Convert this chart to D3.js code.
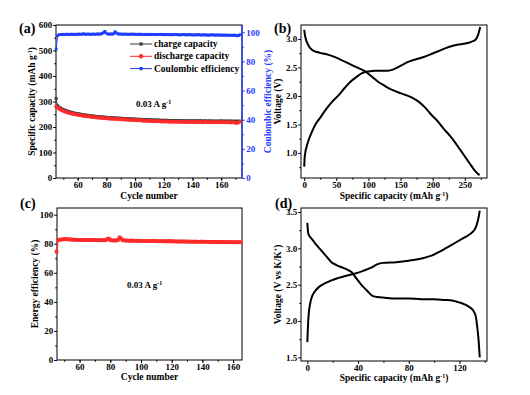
<!DOCTYPE html>
<html>
<head>
<meta charset="utf-8">
<script src="https://cdn.jsdelivr.net/npm/d3@7"></script>
<style>
  body { margin: 0; background: #fff; }
  svg text { font-family: "Liberation Serif", "Times New Roman", serif; font-weight: bold; }
</style>
</head>
<body>
<div id="chart"></div>
<script>
// (a) cycling, cycles 45..173
const firstCycleA = 45;
const chargeCap = [312,
  283,278,274,271,268,266,264,262,260,258,
  257,255,254,253,252,251,250,249,248,247,
  246,246,245,244,243,243,242,241,241,240,
  240,239,239,238,238,237,237,236,236,236,
  235,235,235,234,234,234,233,233,233,232,
  232,232,231,231,231,230,230,230,230,229,
  229,229,229,228,228,228,228,227,227,227,
  227,227,226,226,226,226,226,226,225,225,
  225,225,225,225,225,225,225,224,224,224,
  224,224,224,224,224,224,224,224,224,224,
  224,223,224,224,223,223,224,223,223,223,
  223,223,223,223,224,223,223,223,223,223,
  223,223,223,222,223,223,222,223];
const dischargeCap = [280,
  276,272,269,266,263,261,259,257,255,254,
  252,251,250,249,248,247,246,245,244,243,
  242,242,241,240,239,239,238,237,237,236,
  236,235,235,234,234,233,233,232,232,232,
  231,231,231,230,230,230,229,229,229,228,
  228,228,227,227,227,226,226,226,226,225,
  225,225,225,224,224,224,224,223,223,223,
  223,223,222,222,222,222,222,222,221,221,
  221,221,221,221,221,221,221,220,220,220,
  220,220,220,220,220,220,220,220,220,220,
  220,219,220,220,219,219,220,219,219,219,
  219,219,219,219,220,219,219,219,219,219,
  219,218,219,218,217,216,218,221];
const coulombEff = [88.5,
  97.8,98.3,98.5,98.4,98.6,98.5,98.6,98.7,98.5,98.6,
  98.7,98.6,98.5,98.7,98.6,98.8,98.6,98.7,99.0,98.7,
  98.6,98.8,98.7,98.6,98.7,98.8,98.6,98.7,98.9,98.7,
  98.8,99.2,99.8,100.6,99.4,98.8,98.7,98.9,98.7,99.0,
  100.4,99.6,98.9,98.8,98.7,98.8,98.6,98.8,98.7,98.6,
  98.7,98.6,98.8,98.6,98.7,98.5,98.6,98.7,98.5,98.6,
  98.5,98.6,98.4,98.6,98.5,98.4,98.6,98.5,98.4,98.5,
  98.4,98.5,98.6,98.4,98.5,98.3,98.4,98.5,98.3,98.4,
  98.3,98.4,98.5,98.3,98.4,98.2,98.3,98.4,98.5,98.3,
  98.2,98.3,98.4,98.2,98.3,98.1,98.3,98.2,98.4,98.2,
  98.1,98.2,98.3,98.1,98.2,98.0,98.2,98.1,98.3,98.1,
  98.0,98.1,98.2,98.0,98.1,98.0,98.1,97.9,98.1,98.0,
  97.9,98.0,97.8,98.1,97.9,97.6,97.7,98.3];

// (b) charge / discharge profile
const bDisCap = [0,1,2,4,8,12,20,27,38,48,58,69,82,95,105,115,125,136,147,157,168,178,188,198,209,219,227,234,242,250,258,265,270,273];
const bDisV = [3.16,3.08,3.02,2.95,2.86,2.81,2.77,2.75,2.72,2.68,2.63,2.57,2.50,2.43,2.34,2.25,2.18,2.11,2.06,2.02,1.97,1.90,1.80,1.67,1.54,1.40,1.30,1.20,1.07,0.94,0.81,0.70,0.64,0.61];
const bChaCap = [0,0.5,1.5,4,7,12,17,25,33,43,54,63,72,81,90,95,100,110,120,130,140,147,155,165,173,185,199,212,225,238,251,260,267,271,274];
const bChaV = [0.76,0.88,0.99,1.12,1.23,1.37,1.49,1.62,1.75,1.89,2.02,2.14,2.25,2.33,2.40,2.42,2.43,2.44,2.44,2.44,2.47,2.51,2.56,2.61,2.64,2.68,2.74,2.80,2.86,2.90,2.92,2.95,2.99,3.08,3.21];

// (c) energy efficiency, cycles 45..165
const firstCycleC = 45;
const energyEff = [74.5,
  82.6,82.8,82.9,83.0,83.1,83.2,83.1,83.0,82.9,82.9,
  82.8,82.8,82.7,82.7,82.6,82.7,82.6,82.6,82.5,82.6,
  82.5,82.5,82.6,82.5,82.4,82.5,82.4,82.4,82.5,82.4,
  82.4,82.5,83.2,83.6,82.6,82.3,82.3,82.2,82.3,82.6,
  84.4,83.6,82.5,82.3,82.2,82.2,82.1,82.1,82.2,82.1,
  82.0,82.0,82.1,82.0,81.9,81.9,82.0,81.9,81.9,81.8,
  81.9,81.8,82.1,81.8,81.8,81.7,81.8,81.7,81.7,81.8,
  81.7,81.6,82.0,81.6,81.7,81.6,81.6,81.6,81.5,81.6,
  81.5,81.5,81.6,81.5,81.5,81.4,81.5,81.4,81.4,81.5,
  81.4,81.4,81.3,81.4,81.5,81.3,81.3,81.4,81.3,81.3,
  81.3,81.2,81.3,81.2,81.3,81.2,81.2,81.2,81.1,81.2,
  81.1,81.1,81.2,81.1,81.0,81.1,81.0,81.0,81.1,81.0];

// (d) charge / discharge profile vs K/K+
const dDisCap = [0,0.3,0.8,2,3.5,7,11,15,19,23,27,31,35,39,43,47,51,55,61,70,80,90,100,108,115,119,124,128,131,133,134,135,135.6,136];
const dDisV = [3.35,3.27,3.20,3.16,3.13,3.05,2.97,2.89,2.81,2.77,2.74,2.71,2.67,2.58,2.49,2.42,2.35,2.33,2.32,2.31,2.31,2.30,2.30,2.29,2.28,2.26,2.23,2.19,2.14,2.05,1.92,1.75,1.60,1.50];
const dChaCap = [0,0.3,0.7,1.2,2,3,4.5,7,10,14,19,24,30,37,44,50,55,60,70,80,90,98,104,110,116,122,127,130,132,133.5,135,136];
const dChaV = [1.71,1.85,2.00,2.12,2.22,2.30,2.37,2.43,2.48,2.52,2.56,2.59,2.62,2.65,2.69,2.73,2.78,2.80,2.81,2.83,2.86,2.90,2.95,3.01,3.07,3.13,3.18,3.22,3.26,3.32,3.42,3.52];

const legendItems = ['charge capacity', 'discharge capacity', 'Coulombic efficiency'];
const rateLabel = '0.03 A g';

const BLUE = '#1f3cff';
const RED = '#ff2a2a';
const DARK = '#3a3a3a';

const svg = d3.select('#chart').append('svg')
  .attr('width', 530)
  .attr('height', 395);

function axes(g, x, y, o) {
  const w = x.range()[1] - x.range()[0];
  const h = y.range()[0] - y.range()[1];
  const fs = '9px';
  const bx = g.append('g').attr('transform', 'translate(0,' + h + ')');
  bx.append('g').call(d3.axisBottom(x).tickValues(o.xMinor).tickSize(1.8).tickFormat(''));
  bx.append('g').call(d3.axisBottom(x).tickValues(o.xTicks).tickSize(3).tickPadding(1).tickFormat(o.xFmt || d3.format('d')));
  const ly = g.append('g');
  ly.append('g').call(d3.axisLeft(y).tickValues(o.yMinor).tickSize(1.8).tickFormat(''));
  ly.append('g').call(d3.axisLeft(y).tickValues(o.yTicks).tickSize(2.8).tickPadding(1).tickFormat(o.yFmt || d3.format('d')));
  g.selectAll('.domain').remove();
  g.selectAll('.tick line').attr('stroke', '#000');
  g.selectAll('.tick text').attr('fill', '#000').style('font-size', fs);
  g.append('rect')
    .attr('width', w).attr('height', h)
    .attr('fill', 'none').attr('stroke', '#000').attr('stroke-width', 1);
}

function title(t, parts) {
  parts.forEach(p => {
    const s = t.append('tspan').text(p[0]);
    if (p[1]) s.attr('baseline-shift', 'super').style('font-size', '6px');
  });
  return t;
}

function yTitle(x, y, parts) {
  return title(svg.append('text')
    .attr('transform', 'translate(' + x + ',' + y + ') rotate(-90)')
    .attr('text-anchor', 'middle')
    .style('font-size', '9.5px'), parts);
}

function xTitle(x, y, parts) {
  return title(svg.append('text')
    .attr('x', x).attr('y', y)
    .attr('text-anchor', 'middle')
    .style('font-size', '9.5px'), parts);
}

function panelLabel(x, y, s) {
  svg.append('text').attr('x', x).attr('y', y).style('font-size', '14px').text(s);
}

function rateText(g, x, y) {
  const t = g.append('text').attr('x', x).attr('y', y).style('font-size', '9px');
  t.append('tspan').text(rateLabel);
  t.append('tspan').attr('baseline-shift', 'super').style('font-size', '6px').text('-1');
}

// ---------- (a) ----------
(function () {
  const L = 56, T = 25, W = 186, H = 153;
  const g = svg.append('g').attr('transform', 'translate(' + L + ',' + T + ')');
  const cycles = chargeCap.map((d, i) => firstCycleA + i);
  const x = d3.scaleLinear().domain([44.9, 174.5]).range([0, W]);
  const y = d3.scaleLinear().domain([0, 600]).range([H, 0]);
  const y2 = d3.scaleLinear().domain([0, 105]).range([H, 0]);

  axes(g, x, y, {
    xTicks: d3.range(60, 161, 20), xMinor: d3.range(50, 175, 10),
    yTicks: d3.range(0, 601, 100), yMinor: d3.range(50, 600, 100)
  });

  const ry = g.append('g').attr('transform', 'translate(' + W + ',0)');
  ry.append('g').call(d3.axisRight(y2).tickValues(d3.range(10, 105, 20)).tickSize(1.8).tickFormat(''));
  ry.append('g').call(d3.axisRight(y2).tickValues(d3.range(0, 101, 20)).tickSize(2.8).tickPadding(1.5).tickFormat(d3.format('d')));
  ry.selectAll('.domain').remove();
  ry.selectAll('.tick line').attr('stroke', BLUE);
  ry.selectAll('.tick text').attr('fill', BLUE).style('font-size', '9px');
  ry.append('line').attr('y1', 0).attr('y2', H).attr('stroke', BLUE).attr('stroke-width', 1.3);

  const line = yy => d3.line().x((d, i) => x(cycles[i])).y(d => yy(d));

  g.append('path').datum(chargeCap).attr('d', line(y))
    .attr('fill', 'none').attr('stroke', DARK).attr('stroke-width', 1);
  g.selectAll('.chg').data(chargeCap).enter().append('rect')
    .attr('x', (d, i) => x(cycles[i]) - 1.5).attr('y', d => y(d) - 1.5)
    .attr('width', 3).attr('height', 3).attr('fill', DARK);

  g.append('path').datum(dischargeCap).attr('d', line(y))
    .attr('fill', 'none').attr('stroke', RED).attr('stroke-width', 1);
  g.selectAll('.dis').data(dischargeCap).enter().append('circle')
    .attr('cx', (d, i) => x(cycles[i])).attr('cy', d => y(d))
    .attr('r', 2).attr('fill', RED).attr('fill-opacity', 0.85);

  g.append('path').datum(coulombEff).attr('d', line(y2))
    .attr('fill', 'none').attr('stroke', BLUE).attr('stroke-width', 1);
  g.selectAll('.ce').data(coulombEff).enter().append('rect')
    .attr('x', (d, i) => x(cycles[i]) - 1.4).attr('y', d => y2(d) - 1.4)
    .attr('width', 2.8).attr('height', 2.8).attr('fill', BLUE);

  // legend
  const lg = g.append('g').attr('transform', 'translate(' + (130 - L) + ',0)');
  const colors = [DARK, RED, BLUE];
  legendItems.forEach((s, i) => {
    const yy = 44 - T + i * 12.3;
    lg.append('line').attr('x1', 0).attr('x2', 22).attr('y1', yy).attr('y2', yy)
      .attr('stroke', colors[i]).attr('stroke-width', 1);
    if (i === 1) {
      lg.append('circle').attr('cx', 11).attr('cy', yy).attr('r', 2.2).attr('fill', colors[i]);
    } else {
      lg.append('rect').attr('x', 9.5).attr('y', yy - 1.6).attr('width', 3.2).attr('height', 3.2).attr('fill', colors[i]);
    }
    lg.append('text').attr('x', 24).attr('y', yy).attr('dy', '0.33em')
      .style('font-size', '9.5px').text(s);
  });

  rateText(g, 136 - L, 107 - T);

  yTitle(34.5, T + H / 2, [['Specific capacity (mAh g'], ['-1', true], [')']]);
  yTitle(271, T + H / 2, [['Coulombic efficiency (%)']]).attr('fill', BLUE);
  xTitle(L + W / 2, 198.5, [['Cycle number']]);
  panelLabel(19, 33, '(a)');
})();

// ---------- (b) ----------
(function () {
  const L = 301, T = 25, W = 186, H = 153;
  const g = svg.append('g').attr('transform', 'translate(' + L + ',' + T + ')');
  const x = d3.scaleLinear().domain([-5, 284.6]).range([0, W]);
  const y = d3.scaleLinear().domain([0.56, 3.245]).range([H, 0]);
  axes(g, x, y, {
    xTicks: d3.range(0, 251, 50), xMinor: d3.range(25, 285, 50),
    yTicks: [1.0, 1.5, 2.0, 2.5, 3.0], yMinor: [0.75, 1.25, 1.75, 2.25, 2.75],
    yFmt: d3.format('.1f')
  });
  const line = d3.line().x(d => x(d[0])).y(d => y(d[1])).curve(d3.curveMonotoneX);
  g.append('path').datum(d3.zip(bDisCap, bDisV)).attr('d', line)
    .attr('fill', 'none').attr('stroke', '#000').attr('stroke-width', 2);
  g.append('path').datum(d3.zip(bChaCap, bChaV)).attr('d', line)
    .attr('fill', 'none').attr('stroke', '#000').attr('stroke-width', 2);

  yTitle(281, T + H / 2, [['Voltage (V)']]);
  xTitle(L + W / 2, 198.5, [['Specific capacity (mAh g'], ['-1', true], [')']]);
  panelLabel(274, 33, '(b)');
})();

// ---------- (c) ----------
(function () {
  const L = 57, T = 208, W = 185, H = 152;
  const g = svg.append('g').attr('transform', 'translate(' + L + ',' + T + ')');
  const cycles = energyEff.map((d, i) => firstCycleC + i);
  const x = d3.scaleLinear().domain([45.3, 165.8]).range([0, W]);
  const y = d3.scaleLinear().domain([0, 104.6]).range([H, 0]);
  axes(g, x, y, {
    xTicks: d3.range(60, 161, 20), xMinor: d3.range(50, 166, 10),
    yTicks: d3.range(0, 101, 20), yMinor: d3.range(10, 101, 20)
  });
  g.append('path').datum(energyEff)
    .attr('d', d3.line().x((d, i) => x(cycles[i])).y(d => y(d)))
    .attr('fill', 'none').attr('stroke', RED).attr('stroke-width', 1.5);
  g.selectAll('.ee').data(energyEff).enter().append('rect')
    .attr('x', (d, i) => x(cycles[i]) - 1.8).attr('y', d => y(d) - 1.8)
    .attr('width', 3.6).attr('height', 3.6).attr('fill', RED);

  rateText(g, 127 - L, 288 - T);
  yTitle(38, T + H / 2, [['Energy efficiency (%)']]);
  xTitle(L + W / 2, 380, [['Cycle number']]);
  panelLabel(20, 208, '(c)');
})();

// ---------- (d) ----------
(function () {
  const L = 301, T = 208, W = 186, H = 153;
  const g = svg.append('g').attr('transform', 'translate(' + L + ',' + T + ')');
  const x = d3.scaleLinear().domain([-5, 141.7]).range([0, W]);
  const y = d3.scaleLinear().domain([1.45, 3.555]).range([H, 0]);
  axes(g, x, y, {
    xTicks: [0, 40, 80, 120], xMinor: [20, 60, 100, 140],
    yTicks: [1.5, 2.0, 2.5, 3.0, 3.5], yMinor: [1.75, 2.25, 2.75, 3.25],
    yFmt: d3.format('.1f')
  });
  const line = d3.line().x(d => x(d[0])).y(d => y(d[1])).curve(d3.curveMonotoneX);
  g.append('path').datum(d3.zip(dDisCap, dDisV)).attr('d', line)
    .attr('fill', 'none').attr('stroke', '#000').attr('stroke-width', 2);
  g.append('path').datum(d3.zip(dChaCap, dChaV)).attr('d', line)
    .attr('fill', 'none').attr('stroke', '#000').attr('stroke-width', 2);

  yTitle(281, T + H / 2, [['Voltage (V vs K/K'], ['+', true], [')']]);
  xTitle(L + W / 2, 381, [['Specific capacity (mAh g'], ['-1', true], [')']]);
  panelLabel(275, 208, '(d)');
})();
</script>
</body>
</html>
